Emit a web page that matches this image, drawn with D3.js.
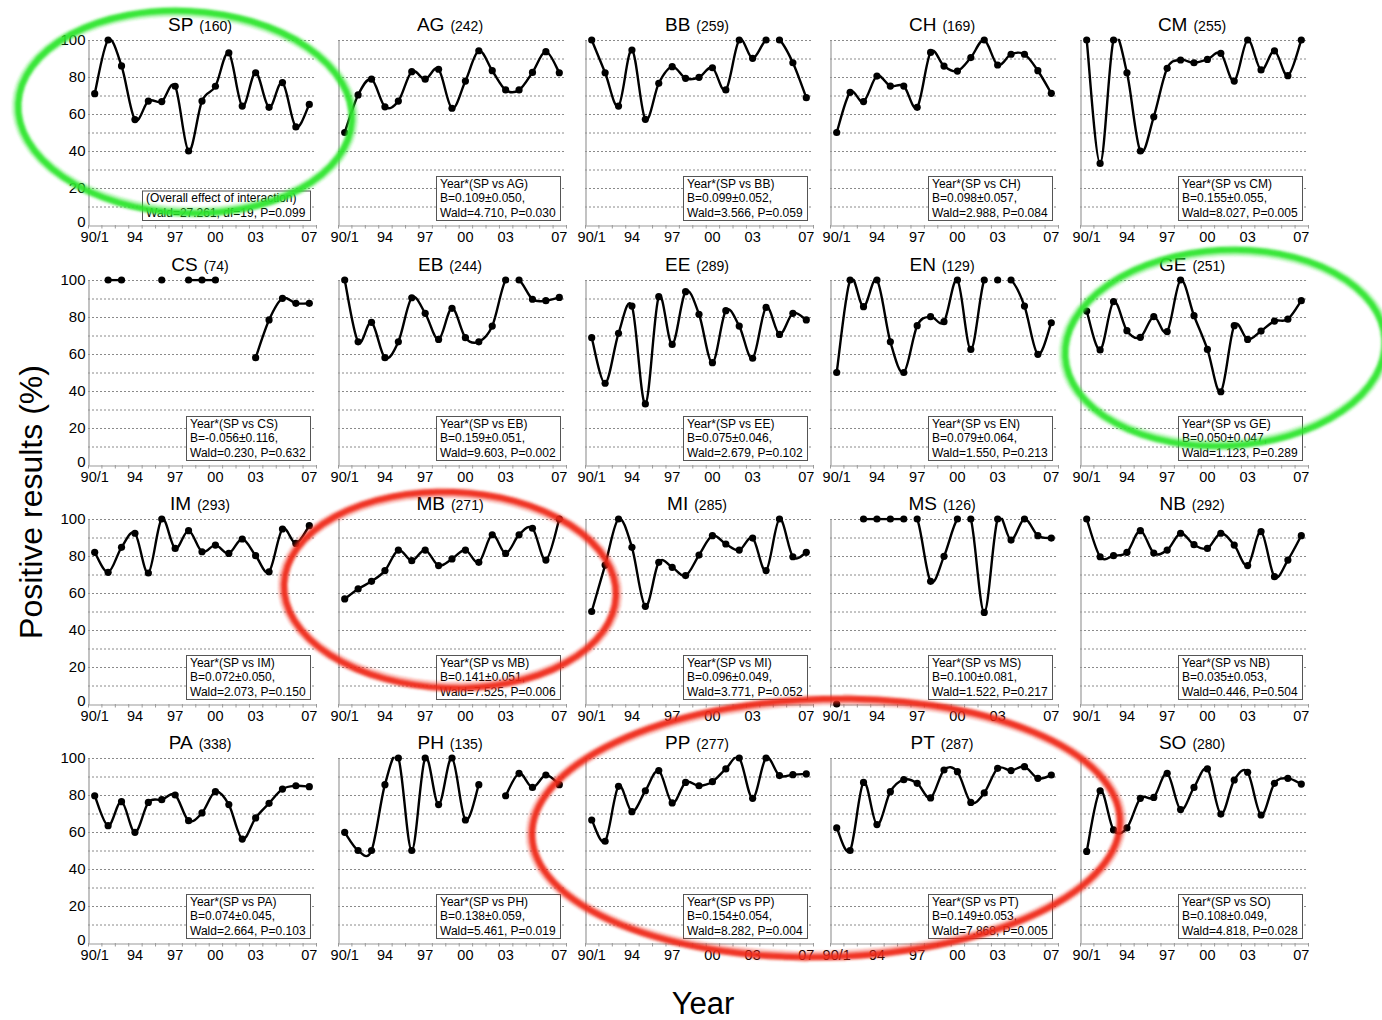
<!DOCTYPE html>
<html>
<head>
<meta charset="utf-8">
<script src="https://cdn.jsdelivr.net/npm/d3@7"></script>
<style>
  body { margin: 0; background: #fff; }
  svg { display: block; }
  text { font-family: Arial, "Liberation Sans", sans-serif; fill: #000; }
</style>
</head>
<body>
<svg id="chart" width="1382" height="1020"></svg>
<script>
// Seasons 1990/91 .. 2006/07 and the labelled ones on each x axis
const seasons = ["90/1","91/2","92/3","93/4","94/5","95/6","96/7","97/8","98/9","99/0","00/1","01/2","02/3","03/4","04/5","05/6","06/7"];
const tickSeasons = ["90/1","93/4","96/7","99/0","02/3","06/7"];
const tickLabels = ["90/1","94","97","00","03","07"];
const yTicks = [0, 20, 40, 60, 80, 100];
const yGrid = [10, 20, 30, 40, 50, 60, 70, 80, 90, 100];

// Panels, number of isolates, and Year*(SP vs X) interaction statistics
const panelNames = ["SP","AG","BB","CH","CM","CS","EB","EE","EN","GE","IM","MB","MI","MS","NB","PA","PH","PP","PT","SO"];
const panelCounts = [160,242,259,169,255,74,244,289,129,251,293,271,285,126,292,338,135,277,287,280];
const statB = [null,"0.109±0.050","0.099±0.052","0.098±0.057","0.155±0.055","-0.056±0.116","0.159±0.051","0.075±0.046","0.079±0.064","0.050±0.047","0.072±0.050","0.141±0.051","0.096±0.049","0.100±0.081","0.035±0.053","0.074±0.045","0.138±0.059","0.154±0.054","0.149±0.053","0.108±0.049"];
const statWald = [null,"4.710","3.566","2.988","8.027","0.230","9.603","2.679","1.550","1.123","2.073","7.525","3.771","1.522","0.446","2.664","5.461","8.282","7.868","4.818"];
const statP = [null,"0.030","0.059","0.084","0.005","0.632","0.002","0.102","0.213","0.289","0.150","0.006","0.052","0.217","0.504","0.103","0.019","0.004","0.005","0.028"];
const overallWald = "27.261", overallDf = 19, overallP = "0.099";

// Positive results (%) per season; null = no data that season
const SP = [71,100,86,57,67,66.7,75,40,67,75,93,64.3,82.3,63.6,77,53,65.2];
const AG = [50,70.3,78.8,63.9,67,82.9,78.8,84.2,63.1,77.8,94.2,83.4,73,73,82.5,93.7,82.3];
const BB = [100,82.3,64.3,94.6,57.1,76.6,85.6,79.3,79.8,85,73,100,90.1,100,100,87.7,68.8];
const CH = [50,71.7,66.7,80.5,75.1,75.1,63.6,93.3,85.9,83.2,90.5,100,86.5,92.3,92.3,83.4,71.2];
const CM = [100,33.3,100,82.3,40,58.5,84.7,89.2,87.7,89.5,92.8,77.8,100,83.8,94.1,80.7,100];
const CS = [null,100,100,null,null,100,null,100,100,100,null,null,58,78.4,90.1,87.4,87.4];
const EB = [100,66.6,77.1,58,66.6,90.4,82,67.9,84.7,68.8,66.6,75.1,100,100,89.6,88.8,90.6];
const EE = [68.8,44.2,71.2,85.9,33,91,65.2,93.7,81.5,55.3,83.4,75.1,57.7,85.2,70.6,82,78.4];
const EN = [50,100,85.6,100,66.6,50,75.3,80.2,77.5,100,62.5,100,100,100,85.9,59.8,76.9];
const GE = [83.2,62.2,88.3,72.6,69,80.2,72.1,100,80.7,62.5,39.6,75.3,67.9,72.4,77.8,78.8,88.8];
const IM = [82,71.2,84.7,92.3,70.8,100,84.1,93.7,82.3,85.9,81.4,89.2,80.2,71.5,94.6,86.8,96.4];
const MB = [56.8,62.2,66.3,72.1,83.2,77.5,83.2,74.8,78.4,83.2,76.6,91.5,81.4,91.5,95,77.8,100];
const MI = [50,75.1,100,84.7,52.8,76.6,73.9,69.4,80.5,91,86.5,83.2,89.7,72.1,100,79.6,82];
const MS = [0,null,100,100,100,100,100,66.3,79.8,100,100,49.5,100,88.6,100,91,89.7];
const NB = [100,79.6,80.2,82,93.7,81.6,83.2,92.3,86.1,84.1,92.3,85.9,74.8,93.2,68.8,77.8,91];
const PA = [79.6,63.4,76.4,59.8,76,77.5,80,66.1,70.3,81.8,74.8,56.2,67.6,75.5,83.2,85,84.5];
const PH = [59.8,50,50,85.6,100,50,100,74.8,100,66.5,85.6,null,79.6,91.7,84.1,90.8,85.6];
const PP = [66.5,55,84.7,71,82.3,93.2,75.7,86.8,85,87.2,94.1,100,78.2,100,90.5,91,91.4];
const PT = [62.2,50,86.8,64,81.8,88.3,86.3,78.4,93.5,92.6,76,81.1,94.4,93.2,95.3,89,90.8];
const SO = [49.5,82.3,61.1,62.2,78.2,78.7,91.7,72.1,84.1,94.1,69.7,88.1,92.3,69.2,86.3,89,85.9];

const seriesByName = {SP,AG,BB,CH,CM,CS,EB,EE,EN,GE,IM,MB,MI,MS,NB,PA,PH,PP,PT,SO};

// ---- layout ----
const colLeft = [88, 338, 585, 830, 1080];
const rowTop = [40, 280, 519, 758];
const plotW = 228, plotH = 185;

const svg = d3.select("#chart");

const x = d3.scaleBand().domain(seasons).range([0, plotW]).paddingInner(0).paddingOuter(0);
const xc = s => x(s) + x.bandwidth() / 2;
const y = d3.scaleLinear().domain([0, 100]).range([plotH, 0]);

const defs = svg.append("defs");
defs.append("clipPath").attr("id", "plotClip")
  .append("rect").attr("x", -2).attr("y", y(100) - 1.3).attr("width", plotW + 4).attr("height", plotH + 3);
defs.append("filter").attr("id", "soft").attr("x", "-10%").attr("y", "-10%").attr("width", "120%").attr("height", "120%")
  .append("feGaussianBlur").attr("stdDeviation", 0.9);

// Smoothed line (Bezier through neighbours); a stretch between two 100% points that
// bulges over the top of the plotting area is cut away, as the plot area clips it.
function smoothPath(vals) {
  const p = d3.path();
  const n = vals.length;
  const def = i => i >= 0 && i < n && vals[i] != null;
  const px = i => xc(seasons[i]);
  const py = i => y(vals[i]);
  let pen = false;
  for (let i = 0; i < n - 1; i++) {
    if (!def(i) || !def(i + 1)) { pen = false; continue; }
    const x1 = px(i), y1 = py(i), x2 = px(i + 1), y2 = py(i + 1);
    const x0 = def(i - 1) ? px(i - 1) : x1, y0 = def(i - 1) ? py(i - 1) : y1;
    const x3 = def(i + 2) ? px(i + 2) : x2, y3 = def(i + 2) ? py(i + 2) : y2;
    const c1x = x1 + (x2 - x0) / 6, c1y = y1 + (y2 - y0) / 6;
    const c2x = x2 - (x3 - x1) / 6, c2y = y2 - (y3 - y1) / 6;
    const top = y(100);
    if (vals[i] >= 100 && vals[i + 1] >= 100 && (c1y < top - 0.5 || c2y < top - 0.5)) { pen = false; continue; }
    if (!pen) { p.moveTo(x1, y1); pen = true; }
    p.bezierCurveTo(c1x, c1y, c2x, c2y, x2, y2);
  }
  return p.toString();
}

panelNames.forEach((name, k) => {
  const col = k % 5, row = Math.floor(k / 5);
  const g = svg.append("g").attr("transform", `translate(${colLeft[col]},${rowTop[row]})`);
  const vals = seriesByName[name];

  // dotted gridlines
  g.append("g").selectAll("line").data(yGrid).join("line")
    .attr("x1", 0).attr("x2", plotW)
    .attr("y1", d => y(d) + 0.5).attr("y2", d => y(d) + 0.5)
    .attr("stroke", "#8a8a8a").attr("stroke-width", 1).attr("stroke-dasharray", "2,2");

  // y axis
  const yAxis = d3.axisLeft(y).tickValues(col === 0 ? yTicks : []).tickSize(0).tickSizeOuter(0).tickPadding(3);
  const ya = g.append("g").attr("transform", "translate(0.5,0)").call(yAxis);
  ya.select(".domain").attr("stroke", "#9a9a9a").attr("stroke-width", 1.2);
  ya.selectAll("text").attr("font-size", 15).attr("font-family", "Arial, 'Liberation Sans', sans-serif").attr("fill", "#000");
  // the zero label sits a little above the axis line, clear of the season labels
  ya.selectAll(".tick").filter(d => d === 0).select("text").attr("y", -3.5);

  // x axis with a short tick at every season boundary
  const xAxis = d3.axisBottom(x).tickValues(tickSeasons)
    .tickFormat(s => tickLabels[tickSeasons.indexOf(s)]).tickSize(0).tickSizeOuter(0).tickPadding(6);
  const xa = g.append("g").attr("transform", `translate(0,${plotH + 0.5})`).call(xAxis);
  xa.select(".domain").attr("stroke", "#9a9a9a").attr("stroke-width", 1.2);
  xa.selectAll("text").attr("font-size", 14.5).attr("font-family", "Arial, 'Liberation Sans', sans-serif").attr("fill", "#000");
  g.append("g").selectAll("line").data(d3.range(seasons.length + 1)).join("line")
    .attr("x1", i => i * x.step() + 0.5).attr("x2", i => i * x.step() + 0.5)
    .attr("y1", plotH).attr("y2", plotH + 3.5)
    .attr("stroke", "#9a9a9a").attr("stroke-width", 1);

  // title
  const t = g.append("text").attr("x", plotW / 2 - 2).attr("y", -9).attr("text-anchor", "middle");
  t.append("tspan").attr("font-size", 19).text(name);
  t.append("tspan").attr("font-size", 14).attr("dx", 6).text(`(${panelCounts[k]})`);

  // statistics box
  const lines = k === 0
    ? ["(Overall effect of interaction)", `Wald=${overallWald}, df=${overallDf}, P=${overallP}`]
    : [`Year*(SP vs ${name})`, `B=${statB[k]},`, `Wald=${statWald[k]}, P=${statP[k]}`];
  const box = g.append("g");
  const rect = box.append("rect").attr("fill", "#fff").attr("stroke", "#555").attr("stroke-width", 1);
  const txt = box.append("g");
  lines.forEach((s, j) => {
    txt.append("text").attr("font-size", 12).attr("y", 11.5 + j * 14.5).attr("xml:space", "preserve").text(s);
  });
  const tw = txt.node().getBBox().width;
  const bw = Math.round(tw + 8), bh = lines.length * 14.5 + 0.5;
  const bx = plotW - 6 - bw, by = plotH - 5 - bh;
  rect.attr("x", bx + 0.5).attr("y", by + 0.5).attr("width", bw).attr("height", bh);
  txt.attr("transform", `translate(${bx + 4},${by})`);

  // series line and markers
  g.append("path").attr("d", smoothPath(vals)).attr("fill", "none")
    .attr("stroke", "#000").attr("stroke-width", 2.4).attr("stroke-linejoin", "round")
    .attr("clip-path", "url(#plotClip)");
  g.append("g").selectAll("circle")
    .data(vals.map((v, i) => ({ v, s: seasons[i] })).filter(d => d.v != null))
    .join("circle").attr("cx", d => xc(d.s)).attr("cy", d => y(d.v)).attr("r", 3.6).attr("fill", "#000");
});

// axis titles
svg.append("text").attr("transform", "translate(42,502) rotate(-90)")
  .attr("text-anchor", "middle").attr("font-size", 32).text("Positive results (%)");
svg.append("text").attr("x", 703).attr("y", 1014)
  .attr("text-anchor", "middle").attr("font-size", 31).text("Year");

// hand-drawn highlight rings
const rings = [
  { cx: 185, cy: 112, rx: 168, ry: 100, rot: 3, color: "#2fe62f", w: 7 },
  { cx: 1225, cy: 348, rx: 161, ry: 97, rot: -3, color: "#2fe62f", w: 7 },
  { cx: 450, cy: 590, rx: 167, ry: 97, rot: 2, color: "#f02a18", w: 7 },
  { cx: 826, cy: 828, rx: 295, ry: 128, rot: -1.5, color: "#f02a18", w: 7 }
];
const ringLayer = svg.append("g").attr("filter", "url(#soft)");
rings.forEach(r => {
  const g = ringLayer.append("g").attr("transform", `translate(${r.cx},${r.cy}) rotate(${r.rot})`);
  g.append("ellipse").attr("rx", r.rx).attr("ry", r.ry)
    .attr("fill", "none").attr("stroke", r.color).attr("stroke-width", r.w + 3).attr("stroke-opacity", 0.35);
  g.append("ellipse").attr("rx", r.rx - 1).attr("ry", r.ry + 1)
    .attr("fill", "none").attr("stroke", r.color).attr("stroke-width", r.w - 1).attr("stroke-opacity", 0.9);
});
</script>
</body>
</html>
